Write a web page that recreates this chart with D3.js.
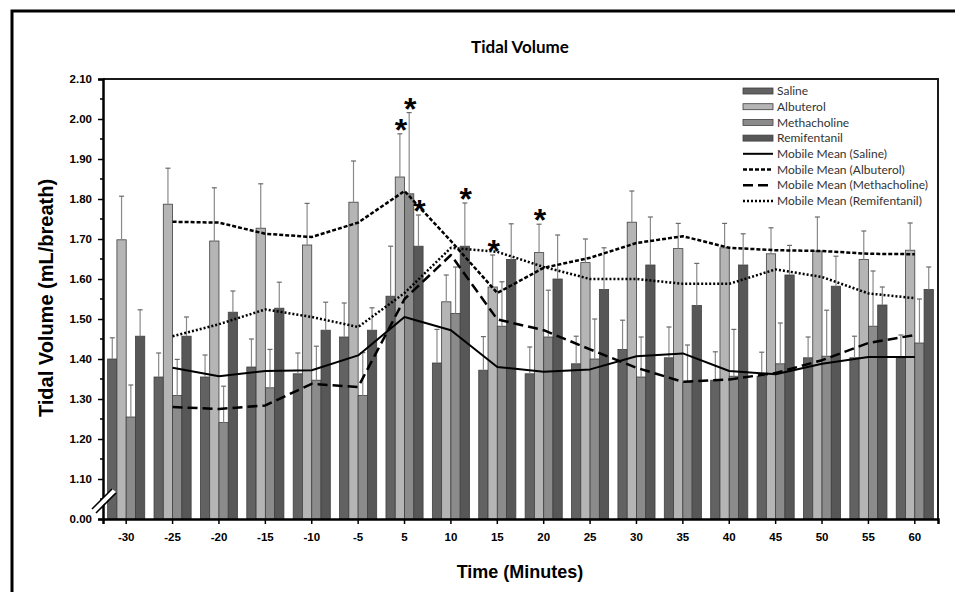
<!DOCTYPE html>
<html>
<head>
<meta charset="utf-8">
<script src="https://cdn.jsdelivr.net/npm/d3@7"></script>
<style>
  body { margin: 0; background: #fff; }
  #chart { width: 955px; height: 592px; }
</style>
</head>
<body>
<div id="chart"></div>
<script>
// Tidal volume by time point, grouped bars with error bars + moving mean lines

const times = ['-30', '-25', '-20', '-15', '-10', '-5', '5', '10', '15', '20', '25', '30', '35', '40', '45', '50', '55', '60'];
const seriesNames = ['Saline', 'Albuterol', 'Methacholine', 'Remifentanil'];

const saline       = [1.400, 1.355, 1.355, 1.380, 1.363, 1.455, 1.557, 1.390, 1.372, 1.363, 1.388, 1.424, 1.403, 1.347, 1.357, 1.403, 1.403, 1.403];
const albuterol    = [1.698, 1.787, 1.695, 1.727, 1.685, 1.792, 1.855, 1.543, 1.580, 1.666, 1.641, 1.742, 1.676, 1.678, 1.663, 1.670, 1.649, 1.672];
const methacholine = [1.255, 1.309, 1.241, 1.328, 1.347, 1.309, 1.813, 1.514, 1.482, 1.455, 1.400, 1.355, 1.341, 1.357, 1.388, 1.407, 1.482, 1.440];
const remifentanil = [1.457, 1.457, 1.517, 1.527, 1.472, 1.472, 1.682, 1.682, 1.649, 1.600, 1.574, 1.635, 1.534, 1.635, 1.610, 1.582, 1.535, 1.574];

const salineErr       = [0.053, 0.060, 0.055, 0.070, 0.052, 0.085, 0.125, 0.084, 0.084, 0.067, 0.069, 0.073, 0.077, 0.071, 0.060, 0.052, 0.054, 0.057];
const albuterolErr    = [0.109, 0.090, 0.133, 0.111, 0.104, 0.103, 0.108, 0.067, 0.080, 0.071, 0.059, 0.078, 0.063, 0.061, 0.065, 0.085, 0.071, 0.068];
const methacholineErr = [0.080, 0.090, 0.091, 0.096, 0.085, 0.107, 0.203, 0.116, 0.111, 0.117, 0.100, 0.100, 0.094, 0.117, 0.102, 0.115, 0.138, 0.110];
const remifentanilErr = [0.066, 0.048, 0.053, 0.065, 0.070, 0.056, 0.078, 0.108, 0.089, 0.110, 0.104, 0.120, 0.105, 0.078, 0.074, 0.075, 0.045, 0.056];

// mobile (moving) means, none at -30
const mmSaline       = [null, 1.378, 1.357, 1.370, 1.372, 1.409, 1.505, 1.472, 1.380, 1.368, 1.374, 1.407, 1.414, 1.370, 1.362, 1.388, 1.405, 1.405];
const mmAlbuterol    = [null, 1.743, 1.741, 1.713, 1.705, 1.741, 1.820, 1.695, 1.565, 1.628, 1.653, 1.690, 1.707, 1.678, 1.672, 1.670, 1.663, 1.662];
const mmMethacholine = [null, 1.280, 1.275, 1.284, 1.338, 1.330, 1.550, 1.660, 1.499, 1.472, 1.424, 1.378, 1.343, 1.349, 1.365, 1.397, 1.440, 1.460];
const mmRemifentanil = [null, 1.457, 1.487, 1.524, 1.505, 1.480, 1.565, 1.678, 1.668, 1.630, 1.600, 1.600, 1.588, 1.588, 1.624, 1.605, 1.564, 1.552];

// significance markers
const starTimes  = ['5', '5', '5', '10', '15', '20'];
const starSeries = ['Albuterol', 'Methacholine', 'Remifentanil', 'Remifentanil', 'Albuterol', 'Albuterol'];

const yTickValues = [1.0, 1.1, 1.2, 1.3, 1.4, 1.5, 1.6, 1.7, 1.8, 1.9, 2.0, 2.1];
const yTickLabels = ['0.00', '1.10', '1.20', '1.30', '1.40', '1.50', '1.60', '1.70', '1.80', '1.90', '2.00', '2.10'];

function renderChart(containerId) {
    const container = d3.select(`#${containerId}`);
    container.selectAll('*').remove();

    const W = 955, H = 592;
    const plot = { left: 103, right: 938, top: 79, bottom: 519 };

    const svg = container.append('svg')
        .attr('width', W)
        .attr('height', H)
        .style('font-family', 'Liberation Sans, Arial, sans-serif');

    svg.append('rect').attr('width', W).attr('height', H).attr('fill', '#fff');

    // outer frame (left + top only are visible)
    svg.append('path')
        .attr('d', `M12,${H} L12,11 L${W},11`)
        .attr('fill', 'none')
        .attr('stroke', '#000')
        .attr('stroke-width', 3);

    const colors = { Saline: '#626262', Albuterol: '#b5b5b5', Methacholine: '#8b8b8b', Remifentanil: '#575757' };
    const means = { Saline: saline, Albuterol: albuterol, Methacholine: methacholine, Remifentanil: remifentanil };
    const errs = { Saline: salineErr, Albuterol: albuterolErr, Methacholine: methacholineErr, Remifentanil: remifentanilErr };

    const x = d3.scaleBand()
        .domain(times)
        .range([plot.left, plot.right])
        .paddingInner(0.2)
        .paddingOuter(0.1);

    const xs = d3.scaleBand()
        .domain(seriesNames)
        .range([0, x.bandwidth()]);

    const y = d3.scaleLinear()
        .domain([1.0, 2.1])
        .range([plot.bottom, plot.top]);

    // title
    svg.append('text')
        .attr('x', 520)
        .attr('y', 53)
        .attr('text-anchor', 'middle')
        .style('font-family', 'Lato, sans-serif')
        .style('font-weight', 'bold')
        .style('font-size', '17px')
        .text('Tidal Volume');

    // bars
    const barData = [];
    times.forEach((t, i) => {
        seriesNames.forEach(s => {
            barData.push({ time: t, series: s, value: means[s][i], err: errs[s][i] });
        });
    });

    const g = svg.append('g');

    g.selectAll('.bar')
        .data(barData)
        .enter()
        .append('rect')
        .attr('x', d => x(d.time) + xs(d.series))
        .attr('y', d => y(d.value))
        .attr('width', xs.bandwidth())
        .attr('height', d => y(1.0) - y(d.value))
        .attr('fill', d => colors[d.series])
        .attr('stroke', '#404040')
        .attr('stroke-width', 0.8);

    // error bars (upper only)
    const eb = g.selectAll('.err')
        .data(barData)
        .enter()
        .append('g');
    eb.append('line')
        .attr('x1', d => x(d.time) + xs(d.series) + xs.bandwidth() / 2)
        .attr('x2', d => x(d.time) + xs(d.series) + xs.bandwidth() / 2)
        .attr('y1', d => y(d.value))
        .attr('y2', d => y(d.value + d.err))
        .attr('stroke', '#8a8a8a')
        .attr('stroke-width', 1.2);
    eb.append('line')
        .attr('x1', d => x(d.time) + xs(d.series) + xs.bandwidth() / 2 - 2.5)
        .attr('x2', d => x(d.time) + xs(d.series) + xs.bandwidth() / 2 + 2.5)
        .attr('y1', d => y(d.value + d.err))
        .attr('y2', d => y(d.value + d.err))
        .attr('stroke', '#6a6a6a')
        .attr('stroke-width', 1.2);

    // mobile mean lines
    const lineDefs = [
        { name: 'Mobile Mean (Saline)', values: mmSaline, dash: null, width: 2 },
        { name: 'Mobile Mean (Albuterol)', values: mmAlbuterol, dash: '4,2', width: 2.5 },
        { name: 'Mobile Mean (Methacholine)', values: mmMethacholine, dash: '10,5', width: 2.5 },
        { name: 'Mobile Mean (Remifentanil)', values: mmRemifentanil, dash: '2,2', width: 2.5 }
    ];

    const line = d3.line()
        .defined(d => d.v !== null)
        .x(d => x(d.t) + x.bandwidth() / 2)
        .y(d => y(d.v));

    lineDefs.forEach(ld => {
        g.append('path')
            .datum(times.map((t, i) => ({ t: t, v: ld.values[i] })))
            .attr('fill', 'none')
            .attr('stroke', '#000')
            .attr('stroke-width', ld.width)
            .attr('stroke-linejoin', 'round')
            .attr('stroke-dasharray', ld.dash)
            .attr('d', line);
    });

    // stars
    const stars = starTimes.map((t, i) => {
        const s = starSeries[i];
        const idx = times.indexOf(t);
        return { time: t, series: s, top: means[s][idx] + errs[s][idx] };
    });
    g.selectAll('.star')
        .data(stars)
        .enter()
        .append('text')
        .attr('x', d => x(d.time) + xs(d.series) + xs.bandwidth() / 2 + 1)
        .attr('y', d => y(d.top) + 7)
        .attr('text-anchor', 'middle')
        .style('font-size', '32px')
        .style('font-weight', 'bold')
        .text('*');

    // plot frame top + right
    svg.append('path')
        .attr('d', `M${plot.left},${plot.top} L${plot.right},${plot.top} L${plot.right},${plot.bottom}`)
        .attr('fill', 'none')
        .attr('stroke', '#1a1a1a')
        .attr('stroke-width', 2);

    // y axis
    const yAxis = svg.append('g')
        .attr('transform', `translate(${plot.left},0)`)
        .call(d3.axisLeft(y)
            .tickValues(yTickValues)
            .tickSize(5)
            .tickFormat((d, i) => yTickLabels[i]));
    yAxis.select('.domain').attr('stroke-width', 2.5);
    yAxis.selectAll('.tick line').attr('stroke-width', 1.5);
    yAxis.selectAll('text')
        .attr('x', -11)
        .style('font-size', '11.5px')
        .style('font-weight', 'bold')
        .style('font-family', 'Liberation Sans, Arial, sans-serif');

    // minor y ticks
    const minor = d3.range(1.05, 2.1, 0.1);
    svg.append('g')
        .selectAll('line')
        .data(minor)
        .enter()
        .append('line')
        .attr('x1', plot.left - 3)
        .attr('x2', plot.left)
        .attr('y1', d => y(d))
        .attr('y2', d => y(d))
        .attr('stroke', '#000')
        .attr('stroke-width', 1.5);

    // x axis
    const xAxis = svg.append('g')
        .attr('transform', `translate(0,${plot.bottom})`)
        .call(d3.axisBottom(x).tickSize(5).tickPadding(9));
    xAxis.select('.domain').attr('stroke-width', 2.5);
    xAxis.selectAll('.tick line').attr('stroke-width', 1.5);
    xAxis.selectAll('text')
        .style('font-size', '11.5px')
        .style('font-weight', 'bold')
        .style('font-family', 'Liberation Sans, Arial, sans-serif');

    // axis break marks
    const brk = svg.append('g');
    brk.append('path')
        .attr('d', 'M92,509 L112,489 L116,492 L96,512 Z')
        .attr('fill', '#fff');
    brk.append('line').attr('x1', 92).attr('y1', 509).attr('x2', 112).attr('y2', 489)
        .attr('stroke', '#000').attr('stroke-width', 1.6);
    brk.append('line').attr('x1', 96).attr('y1', 513).attr('x2', 116).attr('y2', 493)
        .attr('stroke', '#000').attr('stroke-width', 1.6);

    // axis titles
    svg.append('text')
        .attr('transform', 'translate(53,298) rotate(-90)')
        .attr('text-anchor', 'middle')
        .style('font-size', '20px')
        .style('font-weight', 'bold')
        .text('Tidal Volume (mL/breath)');

    svg.append('text')
        .attr('x', 520)
        .attr('y', 578)
        .attr('text-anchor', 'middle')
        .style('font-size', '18px')
        .style('font-weight', 'bold')
        .text('Time (Minutes)');

    // legend
    const legend = svg.append('g')
        .attr('transform', 'translate(743,91)')
        .style('font-family', 'Lato, sans-serif')
        .style('font-size', '12px');
    const rowH = 15.7;

    seriesNames.forEach((s, i) => {
        const row = legend.append('g').attr('transform', `translate(0,${i * rowH})`);
        row.append('rect')
            .attr('x', 0).attr('y', -3)
            .attr('width', 30).attr('height', 6)
            .attr('fill', colors[s])
            .attr('stroke', '#404040')
            .attr('stroke-width', 0.8);
        row.append('text')
            .attr('x', 34).attr('y', 0)
            .attr('dy', '0.35em')
            .attr('fill', '#333')
            .text(s);
    });

    lineDefs.forEach((ld, i) => {
        const row = legend.append('g').attr('transform', `translate(0,${(i + 4) * rowH})`);
        row.append('line')
            .attr('x1', 0).attr('x2', 30)
            .attr('stroke', '#000')
            .attr('stroke-width', ld.width)
            .attr('stroke-dasharray', ld.dash);
        row.append('text')
            .attr('x', 34).attr('y', 0)
            .attr('dy', '0.35em')
            .attr('fill', '#333')
            .text(ld.name);
    });
}

renderChart('chart');
</script>
</body>
</html>
